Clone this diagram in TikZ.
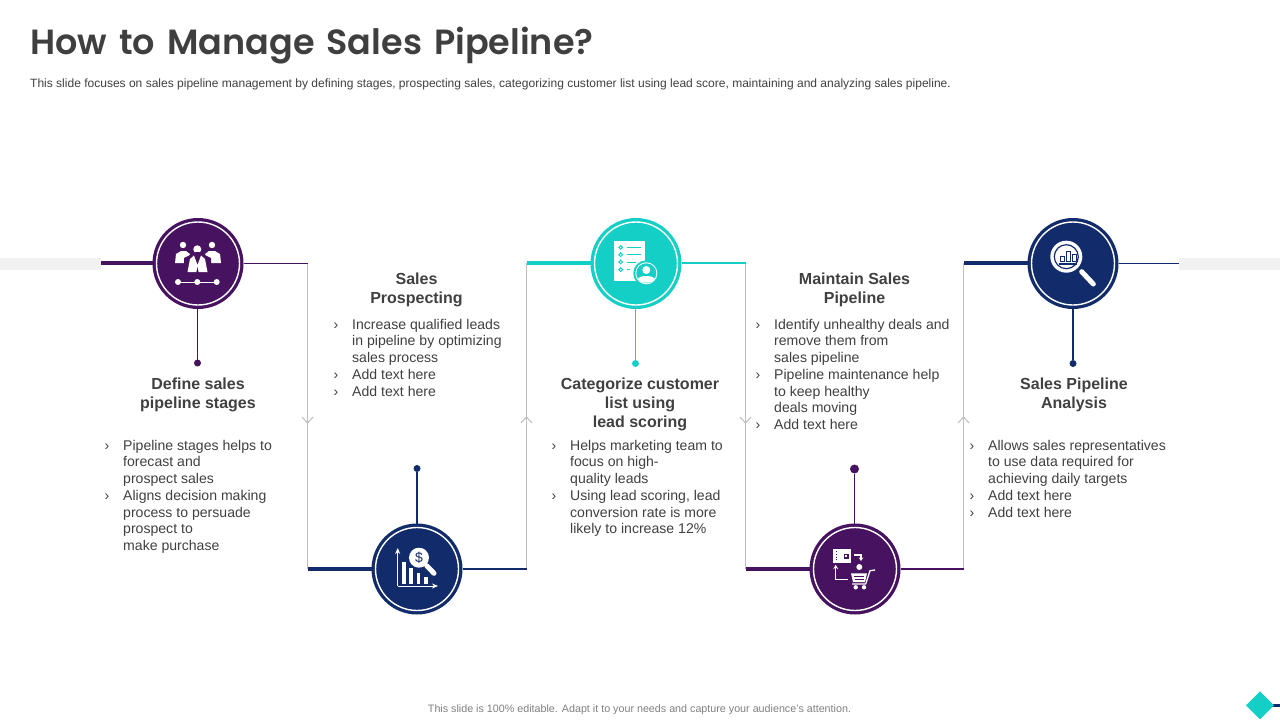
\documentclass[tikz,border=0pt]{standalone}
\usepackage{fontspec}
\setmainfont{Liberation Sans}
\newfontfamily\titlefont[WordSpace=1.45,BoldFont={Poppins SemiBold}]{Poppins}
\usetikzlibrary{arrows.meta}
\definecolor{pur}{HTML}{47125F}
\definecolor{nav}{HTML}{122C6B}
\definecolor{tea}{HTML}{14CFC5}
\definecolor{txt}{HTML}{404040}
\definecolor{ttl}{HTML}{3F3F3F}
\definecolor{gry}{HTML}{BDBDBD}
\definecolor{band}{HTML}{F1F1F1}
\newcommand{\bul}{\llap{›\hspace{14pt}}}
\tikzset{
  x=1pt,y=-1pt,
  disc/.style={circle,fill=#1,minimum size=91pt,inner sep=0pt,outer sep=0pt},
  ringline/.style={draw=white,line width=1.4pt},
  tipdot/.style={circle,fill=#1,minimum size=7pt,inner sep=0pt,outer sep=0pt},
  greyline/.style={draw=gry,line width=1pt},
  barline/.style={draw=#1,line width=4pt},
  thinline/.style={draw=#1,line width=1.2pt},
  chev/.style={draw=gry,line width=1pt},
  head/.style={font=\fontsize{16}{19}\selectfont\bfseries,text=txt,align=center,anchor=north,inner sep=0pt},
  body/.style={font=\fontsize{14.08}{16.75}\selectfont,text=txt,align=left,anchor=north west,inner sep=0pt},
}
\begin{document}
\begin{tikzpicture}
\useasboundingbox (0,0) rectangle (1280,720);
% bands
\fill[band] (0,258) rectangle (101,269.5);
\fill[band] (1179,258) rectangle (1280,269.5);
% title
\node[font=\titlefont\fontsize{35}{44}\selectfont\bfseries,text=ttl,anchor=base west,inner sep=0pt] (title) at (30,54) {How to Manage Sales Pipeline?};
\node[font=\fontsize{12.02}{14}\selectfont,text=txt,anchor=west,inner sep=0pt] (sub) at (30,84) {This slide focuses on sales pipeline management by defining stages, prospecting sales, categorizing customer list using lead score, maintaining and analyzing sales pipeline.};
\node[font=\fontsize{10.73}{13}\selectfont,text=gray,anchor=center,inner sep=0pt] (foot) at (639.5,710) {This slide is 100\% editable.  Adapt it to your needs and capture your audience's attention.};
% junctions
\coordinate (a0) at (101,263.2);
\coordinate (j1t) at (307.5,263.2); \coordinate (j1b) at (307.5,569);
\coordinate (j2t) at (526.5,263.2); \coordinate (j2b) at (526.5,569);
\coordinate (j3t) at (745.5,263.2); \coordinate (j3b) at (745.5,569);
\coordinate (j4t) at (963.5,263.2); \coordinate (j4b) at (963.5,569);
\coordinate (a5) at (1179,263.2);
% discs
\node[disc=pur] (c1) at (198,263.5) {};
\node[disc=nav] (c2) at (417,569) {};
\node[disc=tea] (c3) at (636,263.5) {};
\node[disc=pur] (c4) at (855,569) {};
\node[disc=nav] (c5) at (1073,263.5) {};
\node[tipdot=pur] (d1) at (197.5,363) {};
\node[tipdot=nav] (d2) at (417,468.5) {};
\node[tipdot=tea] (d3) at (635.5,363.5) {};
\node[tipdot=pur,minimum size=9pt] (d4) at (854.5,469) {};
\node[tipdot=nav] (d5) at (1073,363.5) {};
% grey verticals
\draw[greyline] (j1t) -- (j1b);
\draw[greyline] (j2t) -- (j2b);
\draw[greyline] (j3t) -- (j3b);
\draw[greyline] (j4t) -- (j4b);
% chevrons
\draw[chev] (302,417) -- (307.5,423) -- (313,417);
\draw[chev] (521,423) -- (526.5,417) -- (532,423);
\draw[chev] (740,417) -- (745.5,423) -- (751,417);
\draw[chev] (958,423) -- (963.5,417) -- (969,423);
% connectors
\draw[barline=pur] (a0) -- (c1.west |- a0);
\draw[thinline=pur] (c1.east |- j1t) -- (j1t);
\draw[thinline=pur] (d1 |- c1.south) -- (d1);
\draw[barline=nav] (j1b) -- (c2);
\draw[thinline=nav] (c2) -- (j2b);
\draw[thinline=nav] (c2) -- (d2);
\draw[barline=tea] (j2t) -- (c3.west |- j2t);
\draw[tea,line width=1.5pt] (c3.east |- j3t) -- (j3t);
\draw[thinline=tea] (d3 |- c3.south) -- (d3);
\draw[barline=pur] (j3b) -- (c4);
\draw[thinline=pur] (c4) -- (j4b);
\draw[thinline=pur] (d4 |- c4.north) -- (d4);
\draw[barline=nav] (j4t) -- (c5.west |- j4t);
\draw[thinline=nav] (c5.east |- a5) -- (a5);
\draw[thinline=nav] (c5) -- (d5);
% rings
\foreach \n in {c1,c2,c3,c4,c5} \draw[ringline] (\n.center) circle (41.5);
% icon 1: team
\fill[white] (197.3,249.3) circle (4); \fill[white] (183,245) circle (3.2); \fill[white] (212,245) circle (3.2);
\fill[white] (175,263) -- (176,254) -- (181,251) -- (186,251) -- (190,254) -- (186,263) -- cycle;
\fill[white] (221,263) -- (220,254) -- (215,251) -- (209,251) -- (205,254) -- (209,263) -- cycle;
\fill[pur] (184,258) -- (196,252) -- (199,252) -- (211,258) -- (211,274) -- (184,274) -- cycle;
\fill[white] (187.5,272) -- (190,259) -- (194,255.5) -- (197.5,265) -- (201,255.5) -- (205,259) -- (207.5,272) -- (198.6,272) -- (197.5,266) -- (196.4,272) -- cycle;
\draw[white,line width=1pt] (178,282) -- (216.7,282);
\foreach \xx in {178,197.3,216.7} \fill[white] (\xx,282) circle (3);
% icon 2: chart
\draw[white,line width=1pt,-{Stealth[length=6pt,width=5pt]}] (397.7,586) -- (397.7,548);
\draw[white,line width=1pt,-{Stealth[length=6pt,width=5pt]}] (397.7,586) -- (438,586);
\fill[white] (401.7,561.7) rectangle (405.7,584);
\fill[white] (409.3,568) rectangle (413.3,584);
\fill[white] (416.7,573) rectangle (420.3,584);
\fill[white] (424.3,576.7) rectangle (428,584);
\draw[white,line width=5pt,line cap=round] (426.7,565.7) -- (434,573.3);
\node[circle,fill=white,minimum size=20pt,inner sep=0pt,text=nav,font=\fontsize{14}{14}\selectfont] (dollar) at (419,557.7) {\$};
% icon 3: document and person
\fill[white] (614,241) rectangle (645.3,281);
\foreach \yy/\xe in {247.3/640.7,254.7/640.7,262/636,269.7/630}{
  \draw[tea,line width=1pt] (620.7,\yy) circle (1.8);
  \draw[tea,line width=1pt] (626.7,\yy) -- (\xe,\yy);
}
\fill[tea] (646.3,273.3) circle (13);
\fill[white] (646.3,273.3) circle (11);
\fill[tea] (646.3,273.3) circle (10);
\fill[white] (646.3,270) circle (4);
\fill[white] (637.5,279) .. controls (640,275) and (652,275) .. (655,279) .. controls (652,284) and (640,284) .. (637.5,279) -- cycle;
% icon 4: wallet and cart
\fill[white] (833.3,549.3) rectangle (851.3,562.7);
\fill[pur] (844,553.5) rectangle (848.5,558.5);
\fill[white] (845.3,555) rectangle (847.2,557);
\draw[pur,line width=.8pt,dotted] (836,551) -- (836,561);
\draw[white,line width=1.3pt,-{Stealth[length=3.5pt,width=4.5pt]}] (854.3,555) -- (861,555) -- (861,561);
\fill[white] (859.3,567) circle (3);
\draw[white,line width=1.3pt,{Stealth[length=4pt,width=5pt]}-] (835.7,565) -- (835.7,579.3) -- (848.3,579.3);
\fill[white] (851,573.3) -- (867,573.3) -- (865,582) -- (853,582) -- cycle;
\draw[pur,line width=.8pt] (854,576) -- (864,576) (855,579) -- (863.5,579);
\draw[white,line width=1.3pt,line join=round] (875,570) -- (870,570.7) -- (865.7,584) -- (852,584);
\fill[white] (855.7,587.3) circle (2.2); \fill[white] (864,587.3) circle (2.2);
% icon 5: magnifier
\fill[white] (1066.3,256.7) circle (16);
\draw[nav,line width=1.2pt] (1066.3,256.7) circle (12);
\draw[white,line width=5pt,line cap=round] (1081.7,271.7) -- (1093.3,284);
\draw[nav,line width=1pt,fill=white] (1060,256.7) rectangle (1064,261.7);
\draw[nav,line width=1pt,fill=white] (1066,251.7) rectangle (1070,261.7);
\draw[nav,line width=1pt,fill=white] (1072,254) rectangle (1076,261.7);
\draw[nav,line width=1.2pt] (1059,264) -- (1076.7,264);
% headings
\node[head] (h1) at (198,377.7) {Define sales\\pipeline stages};
\node[head] (h2) at (416.5,272.7) {Sales\\Prospecting};
\node[head] (h3) at (640,377.7) {Categorize customer\\list using\\lead scoring};
\node[head] (h4) at (854.5,272.7) {Maintain Sales\\Pipeline};
\node[head] (h5) at (1074,377.7) {Sales Pipeline\\Analysis};
% lists
\node[body] (b1) at (123,439.7) {\bul Pipeline stages helps to\\forecast and\\prospect sales\\\bul Aligns decision making\\process to persuade\\prospect to\\make purchase};
\node[body] (b2) at (352,318.7) {\bul Increase qualified leads\\in pipeline by optimizing\\sales process\\\bul Add text here\\\bul Add text here};
\node[body] (b3) at (570,439.7) {\bul Helps marketing team to\\focus on high-\\quality leads\\\bul Using lead scoring, lead\\conversion rate is more\\likely to increase 12\%};
\node[body] (b4) at (774,318.7) {\bul Identify unhealthy deals and\\remove them from\\sales pipeline\\\bul Pipeline maintenance help\\to keep healthy\\deals moving\\\bul Add text here};
\node[body] (b5) at (988,439.7) {\bul Allows sales representatives\\to use data required for\\achieving daily targets\\\bul Add text here\\\bul Add text here};
% corner mark
\draw[nav,line width=3pt] (1262,705.3) -- (1280,705.3);
\fill[tea] (1246,705.3) -- (1260,691.3) -- (1274,705.3) -- (1260,719.3) -- cycle;
\end{tikzpicture}
\end{document}
